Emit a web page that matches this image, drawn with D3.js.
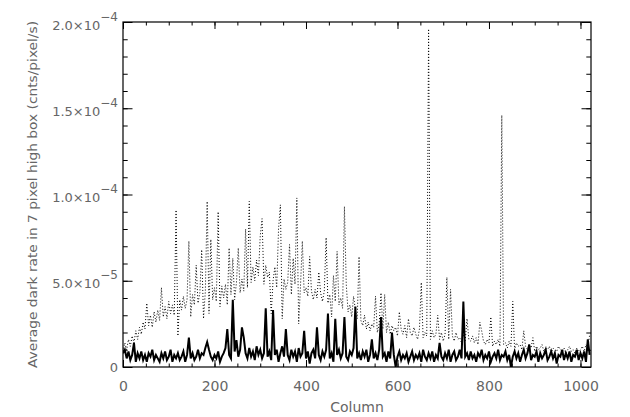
<!DOCTYPE html>
<html>
<head>
<meta charset="utf-8">
<script src="https://cdn.jsdelivr.net/npm/d3@7"></script>
<style>
  html, body { margin: 0; padding: 0; background: #fff; }
  svg { display: block; }
  text { font-family: "DejaVu Sans", sans-serif; fill: #666; }
</style>
</head>
<body>
<div id="chart"></div>
<script>
// ---------- data (values in units of 1e-5 cnts/pixel/s), one value every 4 columns ----------
const columnStep = 4;
const dottedSeries = [
  0.9, 1.4, 1.0, 1.6, 1.2, 1.8, 1.4, 2.1, 1.6, 2.3,
  1.9, 2.6, 2.2, 3.7, 2.4, 3.0, 2.3, 3.2, 2.6, 3.3,
  2.7, 4.6, 2.9, 3.5, 2.8, 3.8, 3.1, 3.6, 3.0, 9.1,
  1.8, 3.9, 3.3, 4.1, 3.4, 3.9, 7.3, 2.9, 4.2, 3.6,
  5.9, 3.7, 4.3, 6.8, 2.8, 4.4, 9.6, 3.1, 7.4, 3.9,
  4.6, 3.8, 9.0, 3.5, 4.7, 4.0, 4.8, 3.6, 6.9, 4.2,
  6.3, 3.9, 4.9, 6.9, 4.3, 5.1, 4.4, 8.0, 4.6, 9.6,
  4.9, 5.8, 5.0, 6.2, 5.3, 7.6, 8.6, 4.8, 5.9, 5.2,
  5.5, 3.1, 5.0, 5.8, 4.6, 8.0, 9.4, 2.8, 5.1, 4.5,
  4.9, 7.1, 4.2, 6.3, 4.8, 9.8, 2.5, 4.7, 7.3, 4.3,
  4.6, 4.1, 6.4, 4.4, 3.9, 4.5, 4.0, 5.5, 4.3, 3.8,
  4.4, 7.5, 3.7, 4.2, 2.9, 5.3, 3.8, 6.7, 3.6, 4.0,
  3.4, 9.3, 4.8, 3.2, 3.6, 2.9, 4.1, 3.3, 2.8, 6.4,
  2.7, 2.4, 3.0, 2.2, 2.6, 2.1, 2.5, 2.3, 4.1, 2.0,
  2.5, 4.3, 2.2, 4.2, 2.0, 2.6, 1.9, 2.4, 2.1, 2.3,
  1.8, 3.2, 2.2, 1.9, 2.4, 1.7, 2.8, 2.0, 1.8, 2.3,
  1.9, 1.6, 2.2, 4.9, 1.7, 2.0, 1.8, 19.6, 1.6, 2.1,
  1.7, 1.9, 3.0, 1.6, 2.0, 1.5, 1.9, 5.2, 1.6, 4.5,
  1.8, 1.5, 2.0, 1.6, 1.7, 1.4, 1.9, 1.5, 2.8, 1.6,
  1.5, 1.8, 1.4, 1.7, 1.3, 2.6, 2.1, 1.5, 1.3, 1.6,
  1.4, 2.9, 1.2, 1.5, 1.3, 1.6, 1.2, 14.6, 1.3, 1.4,
  1.1, 1.5, 1.2, 3.8, 1.0, 1.4, 1.2, 1.3, 1.0, 2.1,
  1.2, 1.0, 1.3, 1.1, 1.7, 0.9, 1.2, 1.0, 1.1, 1.3,
  0.9, 1.1, 1.0, 1.2, 0.8, 1.1, 1.0, 0.9, 1.2, 1.0,
  0.9, 1.1, 0.8, 1.0, 1.2, 0.9, 1.0, 0.8, 1.1, 0.9,
  1.0, 1.2, 0.9, 1.3, 1.1, 1.85
];
const solidSeries = [
  0.8, 1.0, 0.5, 0.9, 0.4, 0.7, 1.4, 0.3, 0.8, 0.5,
  0.9, 0.4, 0.7, 0.3, 0.8, 0.6, 1.0, 0.4, 0.7, 0.5,
  0.3, 0.8, 0.5, 0.9, 0.4, 0.6, 1.0, 0.3, 0.7, 0.5,
  0.8, 0.4, 0.6, 0.9, 0.3, 0.7, 1.7, 0.5, 0.8, 0.4,
  0.6, 1.0, 0.5, 0.8, 0.7, 1.1, 1.45, 1.0, 0.6, 0.4,
  0.7, 0.5, 0.9, 0.3, 0.6, 0.8, 1.1, 2.2, 0.7, 0.5,
  3.9, 0.9, 1.56, 0.6, 1.0, 2.3, 1.7, 0.8, 0.5, 1.1,
  0.6, 0.9, 0.4, 1.2, 0.7, 1.0, 0.5, 0.8, 3.4, 0.6,
  0.9, 0.4, 3.3, 0.7, 1.0, 0.3, 0.8, 1.2, 0.6, 2.2,
  0.7, 0.4, 1.0, 0.6, 0.9, 0.3, 1.1, 0.6, 0.8, 2.1,
  0.5, 0.9, 0.2, 0.8, 1.0, 0.5, 2.3, 0.7, 0.4, 0.9,
  0.6, 1.0, 3.1, 0.5, 0.8, 0.3, 2.8, 0.7, 1.0, 0.5,
  0.8, 2.9, 0.6, 0.4, 0.9, 0.7, 1.1, 3.5, 0.5, 0.8,
  0.4, 0.9, 0.6, 1.0, 0.3, 0.7, 1.6, 0.5, 0.8, 0.4,
  1.0, 2.9, 0.6, 0.8, 0.3, 0.9, 0.5, 2.0, 0.7, 0.0,
  0.6, 0.9, 0.4, 0.7, 0.5, 0.8, 0.3, 0.6, 0.9, 0.4,
  0.7, 0.5, 0.8, 0.3, 1.0, 0.6, 0.4, 0.8, 0.5, 0.9,
  0.3, 0.7, 0.5, 1.4, 0.6, 0.4, 0.8, 0.5, 1.0, 0.3,
  0.7, 0.9, 0.4, 0.6, 1.0, 0.5, 3.8, 0.6, 0.8, 0.4,
  0.9, 0.5, 0.7, 0.3, 0.8, 0.6, 1.0, 0.4, 0.7, 0.5,
  0.9, 0.3, 0.6, 0.8, 0.5, 1.0, 0.4, 0.7, 0.6, 0.9,
  0.4, 0.7, 0.0, 0.6, 0.9, 0.5, 0.8, 0.3, 0.7, 1.0,
  0.5, 0.8, 1.3, 0.4, 0.7, 0.6, 0.9, 0.3, 0.8, 0.5,
  0.7, 1.0, 0.4, 0.6, 0.9, 0.5, 0.8, 0.2, 0.7, 0.6,
  1.0, 0.4, 0.8, 0.5, 0.9, 0.3, 0.7, 0.6, 1.0, 0.4,
  0.8, 0.5, 0.9, 0.3, 1.6, 0.7
];
const xTickValues = [0, 200, 400, 600, 800, 1000];
const xTickLabels = ["0", "200", "400", "600", "800", "1000"];
const xMinorValues = d3.range(0, 1001, 50);
const yTickValues = [0, 5, 10, 15, 20];            // in 1e-5 units
const yTickMantissa = ["0", "5.0", "1.0", "1.5", "2.0"];
const yTickExponent = ["", "\u22125", "\u22124", "\u22124", "\u22124"];
const yMinorValues = d3.range(0, 20.01, 1);
const xTitle = "Column";
const yTitle = "Average dark rate in 7 pixel high box (cnts/pixel/s)";

// ---------- layout ----------
const W = 630, H = 417;
const L = 123, R = 591, T = 22, B = 367;

const svg = d3.select("#chart").append("svg").attr("width", W).attr("height", H);

const x = d3.scaleLinear().domain([0, 1023]).range([L, R]);
const y = d3.scaleLinear().domain([0, 20]).range([B, T]);

const cols = dottedSeries.map((d, i) => i * columnStep);

const line = d3.line().x((d, i) => x(cols[i])).y(d => y(d));

svg.append("defs").append("clipPath").attr("id", "clip")
  .append("rect").attr("x", L).attr("y", T).attr("width", R - L).attr("height", B - T);

const plot = svg.append("g").attr("clip-path", "url(#clip)");

plot.append("path").datum(dottedSeries)
  .attr("d", line).attr("fill", "none").attr("stroke", "#000")
  .attr("stroke-width", 1).attr("stroke-dasharray", "1,2");

plot.append("path").datum(solidSeries)
  .attr("d", line).attr("fill", "none").attr("stroke", "#000")
  .attr("stroke-width", 2).attr("stroke-linejoin", "miter");

// ---------- axes ----------
function styleAxis(g) {
  g.select(".domain").remove();
  g.selectAll(".tick line").attr("stroke", "#000").attr("stroke-width", 1);
}
const xMajLen = 7, xMinLen = 3.5, yMajLen = 9.5, yMinLen = 4.7;

// bottom
svg.append("g").attr("transform", `translate(0,${B})`)
  .call(d3.axisBottom(x).tickValues(xMinorValues).tickSize(-xMinLen).tickFormat(""))
  .call(styleAxis);
const bottom = svg.append("g").attr("transform", `translate(0,${B})`)
  .call(d3.axisBottom(x).tickValues(xTickValues).tickSize(-xMajLen).tickPadding(14)
    .tickFormat((d, i) => xTickLabels[i]))
  .call(styleAxis);
bottom.selectAll("text").attr("font-size", 14).attr("fill", "#666")
  .attr("font-family", '"DejaVu Sans", sans-serif');

// top
svg.append("g").attr("transform", `translate(0,${T})`)
  .call(d3.axisTop(x).tickValues(xMinorValues).tickSize(-xMinLen).tickFormat(""))
  .call(styleAxis);
svg.append("g").attr("transform", `translate(0,${T})`)
  .call(d3.axisTop(x).tickValues(xTickValues).tickSize(-xMajLen).tickFormat(""))
  .call(styleAxis);

// left
svg.append("g").attr("transform", `translate(${L},0)`)
  .call(d3.axisLeft(y).tickValues(yMinorValues).tickSize(-yMinLen).tickFormat(""))
  .call(styleAxis);
const left = svg.append("g").attr("transform", `translate(${L},0)`)
  .call(d3.axisLeft(y).tickValues(yTickValues).tickSize(-yMajLen).tickFormat(""))
  .call(styleAxis);
left.selectAll(".tick").each(function (d, i) {
  const g = d3.select(this);
  g.select("text").remove();
  const t = g.append("text")
    .attr("x", -5).attr("y", 0).attr("dy", "0.32em")
    .attr("text-anchor", "end").attr("font-size", 13).attr("fill", "#666")
    .attr("font-family", '"DejaVu Sans", sans-serif');
  if (yTickExponent[i]) {
    t.attr("dy", "0.55em");
    t.append("tspan").text(yTickMantissa[i] + "\u00d710");
    t.append("tspan").attr("font-size", 12).attr("dy", "-0.75em").text(yTickExponent[i]);
  } else {
    t.text(yTickMantissa[i]);
  }
});

// right
svg.append("g").attr("transform", `translate(${R},0)`)
  .call(d3.axisRight(y).tickValues(yMinorValues).tickSize(-yMinLen).tickFormat(""))
  .call(styleAxis);
svg.append("g").attr("transform", `translate(${R},0)`)
  .call(d3.axisRight(y).tickValues(yTickValues).tickSize(-yMajLen).tickFormat(""))
  .call(styleAxis);

// frame
svg.append("rect").attr("x", L).attr("y", T).attr("width", R - L).attr("height", B - T)
  .attr("fill", "none").attr("stroke", "#000").attr("stroke-width", 1.2);

// titles
svg.append("text").attr("x", (L + R) / 2).attr("y", 412)
  .attr("text-anchor", "middle").attr("font-size", 14).text(xTitle);

svg.append("text")
  .attr("transform", `translate(37,${(T + B) / 2}) rotate(-90)`)
  .attr("text-anchor", "middle").attr("font-size", 13)
  .attr("textLength", 347).attr("lengthAdjust", "spacingAndGlyphs")
  .text(yTitle);
</script>
</body>
</html>
